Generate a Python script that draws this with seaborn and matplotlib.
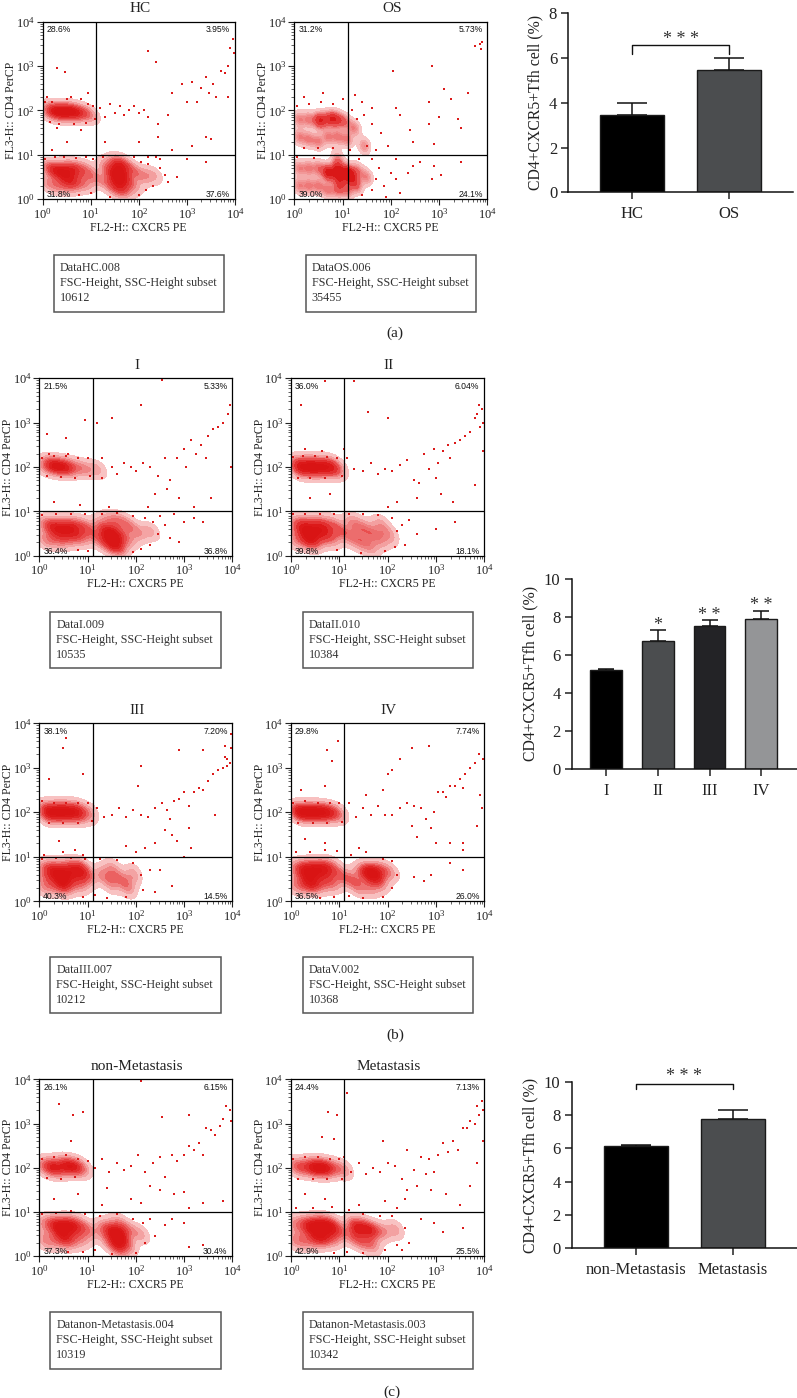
import numpy as np
import matplotlib
matplotlib.use("Agg")
import matplotlib.pyplot as plt
from matplotlib.patches import Rectangle
from matplotlib.ticker import LogLocator, NullFormatter
import seaborn as sns

W, H = 797, 1398
sns.set_theme(style="white")
plt.rcParams.update({
    "font.family": ["Liberation Serif", "DejaVu Serif"],
    "mathtext.fontset": "custom", "mathtext.rm": "Liberation Serif",
    "mathtext.default": "regular",
    "text.color": "#222222", "axes.labelcolor": "#222222",
    "xtick.color": "#222222", "ytick.color": "#222222",
})

# ---- bar data -------------------------------------------------------------
A_CATS = ["HC", "OS"];                A_VALS = [3.45, 5.45];           A_ERR = [0.55, 0.55]
B_CATS = ["I", "II", "III", "IV"];    B_VALS = [5.2, 6.75, 7.5, 7.9];  B_ERR = [0.05, 0.55, 0.35, 0.4]
C_CATS = ["non-Metastasis", "Metastasis"]; C_VALS = [6.15, 7.75];      C_ERR = [0.05, 0.55]
BAR_COLORS = ["#000000", "#4a4d50", "#222326", "#939598"]
YLABEL = "CD4+CXCR5+Tfh cell (%)"

# ---- dot plot data, in decades (log10) -------------------------------------
HC_HALO = [(0.1,1.95),(0.25,2.0),(0.4,1.95),(0.55,2.0),(0.7,1.95),(0.85,1.97),(1.0,1.9),(0.1,0.35),(0.1,0.7),(0.3,0.3),(0.3,0.65),(0.5,0.3),(0.5,0.7),(0.7,0.35),(0.7,0.7),(0.9,0.35),(0.9,0.7),(1.05,0.5),(1.3,0.4),(1.3,0.75),(1.5,0.2),(1.5,0.5),(1.5,0.8),(1.7,0.2),(1.7,0.5),(1.7,0.8),(1.9,0.3),(1.9,0.65),(2.1,0.5),(2.3,0.55)]
HC_CORE = [(0.25,1.97),(0.45,1.97),(0.65,1.97),(0.25,0.65),(0.45,0.6),(0.65,0.65),(0.55,0.42),(1.5,0.55),(1.65,0.55),(1.6,0.3),(1.6,0.8)]
HC_DOTS = [(1.2,2.05),(1.3,1.85),(1.4,2.15),(1.5,1.95),(1.6,2.1),(1.7,1.9),(1.8,2.0),(1.9,2.1),(2.0,1.95),(2.1,2.0),(2.2,1.85),(2.4,1.7),(2.6,1.9),(2.7,2.4),(2.9,2.6),(3.0,2.2),(3.1,2.65),(3.2,2.2),(3.3,2.5),(3.4,2.75),(3.45,2.4),(3.55,2.6),(3.6,2.3),(3.7,2.9),(3.8,2.85),(3.85,3.0),(3.9,3.4),(3.97,3.3),(3.95,3.6),(3.85,2.3),(2.2,3.35),(2.35,3.1),(0.3,2.95),(0.47,2.87),(1.3,1.3),(2.0,1.3),(2.4,1.4),(2.7,1.1),(3.1,1.2),(3.4,1.4),(3.5,1.35),(0.5,1.3),(0.2,1.1),(2.8,0.5),(3.0,0.9),(3.4,0.85),(2.6,0.4),(0.1,2.3),(0.6,2.3),(0.95,2.4),(0.3,1.6),(0.8,1.55),(2.45,0.9),(2.55,0.55),(2.2,0.95),
 (0.05,2.2),(0.2,2.2),(0.35,1.7),(0.5,2.25),(0.65,1.7),(0.8,2.25),(0.95,2.15),(0.9,1.72),(1.05,2.1),(1.1,1.8),(0.15,1.75),(0.05,0.9),(0.25,0.95),(0.45,0.95),(0.7,0.93),(0.9,0.95),(1.05,0.9),(1.0,0.15),(0.75,0.1),(1.25,0.95),(1.4,0.05),(1.9,0.95),(2.05,0.85),(2.2,0.8),(2.3,0.3),(2.15,0.2),(2.0,0.1),(2.45,0.7),(2.35,0.95)]

OS_HALO = [(0.1,1.8),(0.3,1.8),(0.5,1.75),(0.7,1.8),(0.9,1.8),(1.05,1.75),(0.1,1.4),(0.3,1.35),(0.5,1.3),(0.7,1.4),(0.9,1.4),(1.1,1.35),(1.25,1.6),(1.45,1.2),(0.1,0.3),(0.1,0.7),(0.3,0.3),(0.3,0.7),(0.5,0.3),(0.5,0.7),(0.7,0.2),(0.7,0.6),(0.9,0.2),(0.9,0.6),(1.1,0.2),(1.1,0.6),(1.3,0.3),(1.3,0.65),(1.5,0.5),(0.9,0.9)]
OS_CORE = [(0.55,1.8),(0.8,1.82),(0.7,0.6),(0.9,0.65),(1.1,0.6),(0.95,0.4),(1.2,0.45)]
OS_DOTS = [(3.85,3.5),(3.75,3.45),(3.9,3.55),(3.87,3.38),(2.05,2.88),(2.85,3.0),(3.1,2.48),(3.25,2.25),(3.6,2.4),(2.8,2.2),(2.8,1.7),(3.0,1.85),(3.4,1.8),(3.45,1.6),(2.1,2.05),(2.2,1.9),(2.4,1.55),(2.45,1.3),(2.9,1.25),(2.35,0.6),(2.45,0.75),(2.6,0.85),(2.9,0.75),(2.85,0.45),(3.05,0.55),(3.45,0.85),(2.1,0.9),(2.2,0.15),(1.9,0.05),(1.6,2.05),(1.4,2.2),(1.25,2.35),(0.6,2.4),(0.2,2.3),(1.6,1.7),(1.8,1.5),(1.95,1.2),(1.7,1.1),(2.0,0.6),(2.1,0.45),(1.85,0.3),(1.75,0.7),
 (0.05,2.1),(0.3,2.15),(0.55,2.2),(0.8,2.15),(1.0,2.25),(1.2,2.0),(1.3,1.8),(1.45,1.9),(0.2,1.15),(0.5,1.15),(0.8,1.15),(1.15,1.1),(1.5,1.2),(1.6,0.9),(1.7,0.45),(1.6,0.2),(1.4,0.1),(1.35,0.9),(0.05,0.95),(0.4,0.93)]

I_HALO = [(0.1,2.0),(0.25,2.05),(0.4,2.0),(0.55,2.0),(0.75,2.0),(0.95,1.95),(1.2,1.95),(0.1,0.35),(0.1,0.7),(0.3,0.35),(0.3,0.7),(0.5,0.35),(0.5,0.7),(0.7,0.4),(0.7,0.7),(0.9,0.4),(0.9,0.7),(1.05,0.55),(1.25,0.35),(1.25,0.7),(1.45,0.2),(1.45,0.5),(1.45,0.8),(1.65,0.2),(1.65,0.5),(1.65,0.8),(1.85,0.35),(1.85,0.7),(2.05,0.5),(2.3,0.55)]
I_CORE = [(0.3,2.02),(0.55,2.0),(0.3,0.6),(0.5,0.55),(0.7,0.6),(1.4,0.45),(1.55,0.45),(1.6,0.2)]
I_DOTS = [(1.3,2.2),(1.5,2.0),(1.6,1.85),(1.75,2.1),(1.9,2.0),(2.0,1.9),(2.15,2.1),(2.3,2.0),(2.45,1.8),(2.6,2.2),(2.7,1.7),(2.85,2.2),(3.0,2.4),(3.05,2.0),(3.15,2.6),(3.25,2.3),(3.35,2.5),(3.45,2.2),(3.5,2.7),(3.6,2.85),(3.7,2.9),(3.8,3.0),(3.92,3.2),(3.95,3.4),(3.97,2.0),(2.4,1.4),(2.65,1.5),(2.9,1.3),(2.25,1.1),(2.5,0.9),(2.8,0.95),(3.0,0.75),(3.2,0.85),(3.4,0.75),(2.7,0.4),(2.9,0.3),(1.5,3.1),(2.1,3.4),(1.2,3.0),(0.95,3.05),(0.55,2.65),(0.15,2.75),(1.5,4.0),(2.55,3.97),(0.3,1.2),(0.85,1.15),(1.45,1.1),(3.55,1.3),(3.2,1.1),(0.6,2.3),(0.2,2.3),(2.6,0.7),
 (0.05,2.2),(0.3,2.25),(0.55,2.25),(0.8,2.2),(1.0,2.2),(1.05,1.8),(1.3,1.75),(0.15,1.8),(0.45,1.78),(0.75,1.75),(0.05,0.92),(0.35,0.95),(0.65,0.95),(0.95,0.95),(1.3,0.95),(1.6,0.97),(1.95,0.9),(2.2,0.85),(2.35,0.75),(2.3,0.25),(2.1,0.15),(1.95,0.08),(2.45,0.5),(1.0,0.1),(0.8,0.12)]

II_HALO = [(0.08,2.0),(0.22,2.0),(0.38,2.0),(0.52,2.0),(0.68,2.0),(0.85,2.0),(1.0,1.95),(0.08,0.35),(0.08,0.7),(0.28,0.35),(0.28,0.7),(0.48,0.35),(0.48,0.7),(0.68,0.4),(0.68,0.7),(0.88,0.4),(0.88,0.7),(1.05,0.55),(1.25,0.4),(1.25,0.75),(1.45,0.3),(1.45,0.65),(1.65,0.2),(1.65,0.55),(1.85,0.35),(1.85,0.7),(2.05,0.45)]
II_CORE = [(0.2,2.0),(0.4,2.0),(0.6,2.0),(0.8,2.0),(0.25,0.6),(0.45,0.55),(0.65,0.6),(0.4,0.35)]
II_DOTS = [(1.15,2.2),(1.3,1.95),(1.5,1.9),(1.65,2.1),(1.8,1.85),(1.95,1.95),(2.1,1.9),(2.25,2.05),(2.4,2.15),(2.55,1.7),(2.65,1.65),(2.75,2.3),(2.85,1.95),(2.95,2.4),(3.0,1.75),(3.05,2.1),(3.15,2.35),(3.25,2.5),(3.3,2.2),(3.4,2.55),(3.5,2.6),(3.6,2.7),(3.7,2.8),(3.8,3.1),(3.85,3.2),(3.9,3.4),(3.95,3.3),(3.98,3.0),(3.92,2.9),(3.97,2.35),(3.8,1.6),(0.2,3.4),(0.7,3.95),(1.3,3.95),(1.6,4.0),(1.6,3.25),(2.0,3.1),(2.6,1.3),(2.2,1.2),(2.0,1.1),(3.1,1.4),(3.35,1.2),(3.0,0.6),(2.6,0.5),(3.4,0.75),(0.3,2.4),(0.65,2.35),(1.1,2.4),(0.4,1.3),(0.8,1.4),(2.3,0.7),(2.35,0.25),
 (0.05,2.22),(0.25,2.25),(0.5,2.25),(0.75,2.22),(0.95,2.2),(1.05,1.8),(0.15,1.75),(0.4,1.75),(0.7,1.75),(0.05,0.93),(0.3,0.95),(0.6,0.95),(0.9,0.95),(1.2,0.95),(1.5,0.95),(1.8,0.92),(2.1,0.85),(2.2,0.55),(2.15,0.2),(1.95,0.1),(1.45,0.05),(0.95,0.12),(2.45,0.8)]

III_HALO = [(0.08,2.0),(0.22,2.0),(0.38,2.0),(0.52,2.02),(0.68,2.0),(0.85,2.0),(1.05,1.97),(0.08,0.35),(0.08,0.7),(0.28,0.35),(0.28,0.72),(0.48,0.35),(0.48,0.72),(0.68,0.4),(0.68,0.75),(0.88,0.4),(0.88,0.72),(1.05,0.55),(1.3,0.6),(1.5,0.4),(1.5,0.72),(1.7,0.5),(1.85,0.3),(1.95,0.6)]
III_CORE = [(0.2,2.0),(0.4,2.0),(0.6,2.0),(0.8,2.0),(0.25,0.65),(0.45,0.6),(0.65,0.65),(0.85,0.7),(0.5,0.4)]
III_DOTS = [(1.2,2.1),(1.35,1.9),(1.5,1.95),(1.65,2.1),(1.8,1.9),(1.95,2.05),(2.1,1.95),(2.25,1.9),(2.4,2.1),(2.55,2.2),(2.65,2.05),(2.7,1.85),(2.8,2.25),(2.9,2.3),(3.0,2.45),(3.1,2.15),(3.2,2.45),(3.3,2.55),(3.4,2.5),(3.5,2.7),(3.6,2.85),(3.7,2.95),(3.8,3.0),(3.85,3.25),(3.9,3.2),(3.95,3.1),(3.97,3.45),(3.9,3.05),(3.85,3.5),(3.97,3.75),(2.4,1.3),(2.6,1.6),(2.75,1.5),(2.85,1.35),(3.1,1.65),(3.15,1.2),(2.2,1.2),(2.0,1.1),(1.8,1.25),(3.4,3.4),(2.9,3.4),(0.55,3.67),(0.5,3.45),(0.2,2.75),(0.9,2.85),(2.1,3.05),(2.05,2.6),(3.0,1.0),(2.3,0.7),(2.5,0.7),(2.75,0.35),(2.4,0.2),(0.4,1.35),(0.75,1.15),(3.65,1.95),
 (0.05,2.25),(0.3,2.2),(0.55,2.22),(0.8,2.2),(1.0,2.2),(1.1,1.8),(0.2,1.75),(0.5,1.75),(0.8,1.75),(0.1,1.05),(0.5,1.1),(0.9,1.05),(0.05,0.95),(0.35,0.97),(0.65,0.97),(0.95,0.95),(1.25,0.95),(1.6,0.92),(1.95,0.85),(2.1,0.6),(2.15,0.25),(1.8,0.1),(1.4,0.08),(1.15,0.15),(0.9,0.1)]

IV_HALO = [(0.08,2.0),(0.22,2.0),(0.38,2.0),(0.52,2.0),(0.68,2.0),(0.85,2.0),(1.0,1.97),(0.08,0.35),(0.08,0.72),(0.28,0.35),(0.28,0.75),(0.48,0.35),(0.48,0.75),(0.68,0.4),(0.68,0.78),(0.88,0.4),(0.88,0.78),(1.05,0.55),(1.25,0.5),(1.4,0.3),(1.45,0.65),(1.65,0.3),(1.65,0.65),(1.85,0.4),(1.85,0.72),(2.05,0.65)]
IV_CORE = [(0.2,2.0),(0.45,2.0),(0.7,2.0),(0.3,0.65),(0.5,0.68),(0.7,0.7),(0.4,0.45),(1.6,0.65),(1.75,0.62)]
IV_DOTS = [(1.2,2.2),(1.35,1.9),(1.5,2.1),(1.65,1.95),(1.8,2.15),(1.95,1.95),(2.1,1.95),(2.25,2.1),(2.4,2.2),(2.55,2.15),(2.7,2.1),(2.8,1.85),(2.95,2.0),(3.05,2.45),(3.15,2.45),(3.2,2.35),(3.3,2.6),(3.4,2.6),(3.5,2.75),(3.55,2.55),(3.6,2.85),(3.7,3.0),(3.8,3.1),(3.9,3.3),(3.97,3.2),(3.92,2.4),(3.95,2.1),(3.85,1.7),(2.5,1.7),(2.6,1.45),(2.9,1.65),(3.0,1.3),(3.3,1.3),(3.55,1.3),(3.55,1.15),(2.85,3.5),(2.5,3.45),(2.25,3.2),(2.1,2.95),(2.0,2.85),(0.97,3.6),(0.85,3.15),(0.75,3.4),(0.7,2.6),(0.2,2.5),(1.9,2.5),(1.55,2.4),(3.3,0.85),(3.55,0.7),(2.9,0.6),(2.75,0.45),(2.55,0.55),(0.3,1.4),(0.7,1.3),(1.4,1.2),
 (0.05,2.2),(0.3,2.25),(0.55,2.22),(0.8,2.2),(1.0,2.2),(0.15,1.75),(0.45,1.75),(0.75,1.75),(1.05,1.78),(0.1,1.1),(0.4,1.1),(0.7,1.15),(0.95,1.12),(1.25,1.05),(1.55,1.1),(1.9,0.95),(2.1,0.9),(2.2,0.6),(2.1,0.3),(1.9,0.1),(1.5,0.08),(1.2,0.12),(0.9,0.1),(0.6,0.08)]

NM_HALO = [(0.08,2.0),(0.22,2.02),(0.38,2.0),(0.55,2.05),(0.72,2.02),(0.92,2.0),(0.08,0.35),(0.08,0.72),(0.28,0.35),(0.28,0.72),(0.48,0.35),(0.48,0.72),(0.68,0.35),(0.68,0.72),(0.88,0.4),(0.88,0.72),(1.05,0.55),(1.3,0.6),(1.45,0.3),(1.45,0.65),(1.65,0.15),(1.65,0.45),(1.65,0.75),(1.85,0.25),(1.85,0.6),(2.1,0.5)]
NM_CORE = [(0.3,2.0),(0.55,2.03),(0.75,2.03),(0.35,0.68),(0.55,0.65),(0.7,0.7),(0.5,0.45),(1.55,0.5),(1.7,0.5),(1.65,0.25)]
NM_DOTS = [(1.15,2.0),(1.3,2.2),(1.45,1.9),(1.6,2.1),(1.75,1.95),(1.9,2.05),(2.05,2.3),(2.2,1.9),(2.35,2.1),(2.5,2.25),(2.6,1.8),(2.75,2.3),(2.85,2.15),(3.0,2.3),(3.1,2.5),(3.2,2.4),(3.3,2.55),(3.4,2.3),(3.45,2.9),(3.55,2.85),(3.65,2.75),(3.75,2.95),(3.8,3.1),(3.87,3.4),(3.95,3.3),(3.97,3.05),(2.3,1.6),(2.5,1.5),(2.8,1.4),(3.0,1.45),(3.1,1.1),(3.4,1.2),(3.8,1.25),(2.1,1.2),(1.9,1.3),(1.3,1.15),(1.4,1.55),(2.6,0.7),(2.75,0.85),(3.0,0.75),(3.1,0.2),(3.4,0.25),(2.55,3.15),(3.1,3.2),(0.4,3.45),(0.7,3.2),(0.9,3.25),(0.65,2.6),(2.1,3.97),(0.3,1.3),(0.8,1.4),(2.4,0.45),(2.3,0.85),
 (0.05,2.2),(0.3,2.25),(0.55,2.28),(0.8,2.2),(1.0,2.15),(0.15,1.78),(0.45,1.75),(0.75,1.8),(0.05,0.95),(0.35,0.97),(0.65,1.02),(0.95,0.95),(1.25,0.92),(1.6,0.95),(1.95,0.85),(2.15,0.75),(2.2,0.3),(2.0,0.08),(1.5,0.05),(1.15,0.15),(0.9,0.1),(0.6,0.1)]

M_HALO = [(0.08,2.02),(0.22,2.02),(0.38,2.0),(0.55,2.0),(0.72,2.0),(0.9,2.0),(1.1,1.95),(0.08,0.35),(0.08,0.72),(0.28,0.35),(0.28,0.72),(0.48,0.35),(0.48,0.72),(0.68,0.4),(0.68,0.75),(0.88,0.4),(0.88,0.72),(1.05,0.55),(1.3,0.4),(1.3,0.72),(1.5,0.3),(1.5,0.68),(1.7,0.25),(1.7,0.6),(1.9,0.55),(2.15,0.6)]
M_CORE = [(0.5,2.0),(0.7,2.0),(0.4,0.65),(0.6,0.7),(0.8,0.65),(0.6,0.45),(1.35,0.62),(1.6,0.58)]
M_DOTS = [(1.1,2.25),(1.25,1.9),(1.4,2.1),(1.55,1.85),(1.7,2.0),(1.85,1.9),(2.0,2.1),(2.15,2.05),(2.3,1.75),(2.4,2.4),(2.55,1.95),(2.7,2.25),(2.85,2.2),(2.95,1.9),(3.05,2.3),(3.15,2.55),(3.25,2.35),(3.35,2.6),(3.45,2.4),(3.55,2.9),(3.65,2.9),(3.7,3.05),(3.8,3.0),(3.85,3.4),(3.9,3.2),(3.95,3.5),(3.98,3.3),(3.97,2.6),(3.85,2.1),(2.4,1.5),(2.6,1.6),(2.8,1.85),(2.9,1.5),(3.2,1.4),(3.5,1.15),(3.7,1.6),(2.2,1.1),(2.35,1.3),(1.4,1.15),(1.95,1.25),(2.7,0.85),(2.95,0.75),(3.15,0.55),(3.55,0.65),(2.45,0.3),(2.3,0.15),(1.15,3.7),(1.7,4.0),(0.95,3.2),(0.77,3.25),(0.65,2.7),(0.9,2.65),(1.9,2.6),(0.3,1.4),(0.7,1.3),
 (0.05,2.2),(0.3,2.25),(0.55,2.25),(0.8,2.2),(1.0,2.2),(0.15,1.75),(0.45,1.75),(0.75,1.75),(1.05,1.75),(0.1,1.1),(0.45,1.1),(0.85,1.12),(1.2,1.05),(1.5,0.95),(1.85,0.92),(2.1,0.9),(2.35,0.65),(2.2,0.25),(1.95,0.15),(1.5,0.08),(1.15,0.1),(0.9,0.08)]

QUAD_TITLES = ["HC", "OS", "I", "II", "III", "IV", "non-Metastasis", "Metastasis"]
PERCENTS = [("28.6%","3.95%","31.8%","37.6%"),("31.2%","5.73%","39.0%","24.1%"),
            ("21.5%","5.33%","36.4%","36.8%"),("36.0%","6.04%","39.8%","18.1%"),
            ("38.1%","7.20%","40.3%","14.5%"),("29.8%","7.74%","36.5%","26.0%"),
            ("26.1%","6.15%","37.3%","30.4%"),("24.4%","7.13%","42.9%","25.5%")]
BOX_LINES = [("DataHC.008","10612"),("DataOS.006","35455"),("DataI.009","10535"),("DataII.010","10384"),
             ("DataIII.007","10212"),("DataV.002","10368"),("Datanon-Metastasis.004","10319"),("Datanon-Metastasis.003","10342")]
SUBSET = "FSC-Height, SSC-Height subset"
XLAB = "FL2-H:: CXCR5 PE"
YLAB = "FL3-H:: CD4 PerCP"
GATE_X = 12.7
GATE_Y = 10

# ---- layout (pixels) --------------------------------------------------------
BOXES = [(42.5,235,21.7,199.3),(294.3,487.3,21.7,199.3),(39.3,232.3,378.3,555.7),(291,484.3,378.3,555.7),
         (39.3,232.3,723.3,901.3),(291,484.3,723.3,901.3),(39.3,232.3,1079.3,1256.3),(291,484.3,1079.3,1256.3)]
TEXTBOXES = [(54,224,255,312),(305.7,476,255,312),(50.3,220.7,611.7,668.3),(302.7,472.7,611.7,668.3),
             (50.3,220.7,956.7,1013.3),(302.7,472.7,956.7,1013.3),(50.3,220.7,1312.3,1369.3),(302.7,472.7,1312.3,1369.3)]
DATA = [(HC_HALO,HC_CORE,HC_DOTS),(OS_HALO,OS_CORE,OS_DOTS),(I_HALO,I_CORE,I_DOTS),(II_HALO,II_CORE,II_DOTS),
        (III_HALO,III_CORE,III_DOTS),(IV_HALO,IV_CORE,IV_DOTS),(NM_HALO,NM_CORE,NM_DOTS),(M_HALO,M_CORE,M_DOTS)]

fig = plt.figure(figsize=(W/100, H/100), dpi=100, facecolor="white")

def make_ax(L, R, T, B):
    return fig.add_axes([L/W, 1-B/H, (R-L)/W, (B-T)/H])

def fx(px): return px/W
def fy(py): return 1-py/H

RED = "#dc1a1a"
DENSITY = sns.blend_palette(["#fbd5d5", "#f29a9a", "#e84a4a", "#dc1a1a", "#d81212"], as_cmap=True)
for i, box in enumerate(BOXES):
    ax = make_ax(*box)
    halo, core, dots = DATA[i]
    cloud = 10 ** np.array(list(halo) + list(core))
    sns.kdeplot(x=cloud[:,0], y=cloud[:,1], log_scale=True, fill=True, levels=9, thresh=0.06,
                bw_adjust=0.42, cmap=DENSITY, ax=ax, zorder=1, gridsize=140)
    arr = 10 ** np.array(dots)
    sns.scatterplot(x=arr[:,0], y=arr[:,1], s=1.7, color=RED, linewidth=0, marker="s", ax=ax,
                    legend=False, zorder=2)
    ax.set_xlim(1, 1e4); ax.set_ylim(1, 1e4)
    ax.axvline(GATE_X, color="black", lw=0.9, zorder=3)
    ax.axhline(GATE_Y, color="black", lw=0.9, zorder=3)
    for s in ax.spines.values():
        s.set_linewidth(0.9); s.set_color("black"); s.set_zorder(5)
    ax.tick_params(which="major", length=4, width=0.8, labelsize=9, pad=1.5, bottom=True, left=True)
    ax.tick_params(which="minor", length=2, width=0.5, bottom=True, left=True)
    ax.xaxis.set_minor_locator(LogLocator(10, subs=range(2,10), numticks=10))
    ax.yaxis.set_minor_locator(LogLocator(10, subs=range(2,10), numticks=10))
    ax.xaxis.set_minor_formatter(NullFormatter())
    ax.yaxis.set_minor_formatter(NullFormatter())
    ax.set_xlabel(XLAB, fontsize=8.5, labelpad=0)
    ax.set_ylabel(YLAB, fontsize=8.5, labelpad=-1)
    ul, ur, ll, lr = PERCENTS[i]
    kw = dict(fontsize=6.2, family="Liberation Sans", transform=ax.transAxes, color="#111111", zorder=6, va="center")
    ax.text(0.02, 0.955, ul, ha="left", **kw)
    ax.text(0.975, 0.955, ur, ha="right", **kw)
    ax.text(0.02, 0.025, ll, ha="left", **kw)
    ax.text(0.975, 0.025, lr, ha="right", **kw)
    L, R, T, B = box
    fig.text(fx((L+R)/2+1), fy(T-13), QUAD_TITLES[i], fontsize=11, ha="center", va="center")
    xl, xr, yt, yb = TEXTBOXES[i]
    fig.add_artist(Rectangle((fx(xl), fy(yb)), (xr-xl)/W, (yb-yt)/H, transform=fig.transFigure,
                             fill=False, edgecolor="#555555", lw=1.1))
    first, count = BOX_LINES[i]
    for line, dy in zip((first, SUBSET, count), (13, 28, 43)):
        fig.text(fx(xl+6), fy(yt+dy), line, fontsize=8.7, ha="left", va="center", color="#333333")

for lab, x, y in (("(a)",395,333),("(b)",395,1035),("(c)",392,1392)):
    fig.text(fx(x), fy(y), lab, fontsize=11, ha="center", va="center")

def bars(rect, cats, vals, errs, colors, width, xlim, ymax, ticks, cap):
    ax = make_ax(*rect)
    sns.barplot(x=cats, y=vals, hue=cats, palette=colors, legend=False, width=width,
                edgecolor="#1a1a1a", linewidth=1.0, ax=ax, zorder=2)
    pos = np.arange(len(cats))
    ax.errorbar(pos, vals, yerr=[np.zeros(len(errs)), errs], fmt="none", ecolor="#111111",
                elinewidth=1.1, capsize=cap, capthick=1.1, zorder=1)
    ax.set_xlim(*xlim); ax.set_ylim(0, ymax); ax.set_yticks(ticks)
    ax.spines["top"].set_visible(False); ax.spines["right"].set_visible(False)
    for s in ("left","bottom"):
        ax.spines[s].set_linewidth(1.1); ax.spines[s].set_color("#111111")
    ax.tick_params(axis="both", length=5, width=1.1, labelsize=12, pad=3, bottom=True, left=True)
    ax.tick_params(axis="x", pad=5)
    ax.set_ylabel(YLABEL, fontsize=11.3, labelpad=4)
    return ax

def stars(ax, x, y, txt):
    ax.text(x, y, txt, fontsize=13, ha="center", va="center", clip_on=False, color="#333333")

ax = bars((568.3,793,13.3,192.3), A_CATS, A_VALS, A_ERR, BAR_COLORS[:2], 0.655, (-0.657,1.66), 8, [0,2,4,6,8], 11)
ax.plot([0,0,1,1],[6.2,6.58,6.58,6.2],color="#111111",lw=1.0,clip_on=False)
stars(ax, 0.5, 6.85, "* * *")

ax = bars((571.7,797,579,768.7), B_CATS, B_VALS, B_ERR, BAR_COLORS, 0.613, (-0.663,3.69), 10, [0,2,4,6,8,10], 6)
stars(ax, 1, 7.55, "*"); stars(ax, 2, 8.1, "* *"); stars(ax, 3, 8.6, "* *")

ax = bars((571.7,797,1081.7,1248.3), C_CATS, C_VALS, C_ERR, BAR_COLORS[:2], 0.655, (-0.66,1.66), 10, [0,2,4,6,8,10], 11)
ax.plot([0,0,1,1],[9.55,9.88,9.88,9.55],color="#111111",lw=1.0,clip_on=False)
stars(ax, 0.5, 10.3, "* * *")

fig.savefig("out.png", dpi=100, facecolor="white")
